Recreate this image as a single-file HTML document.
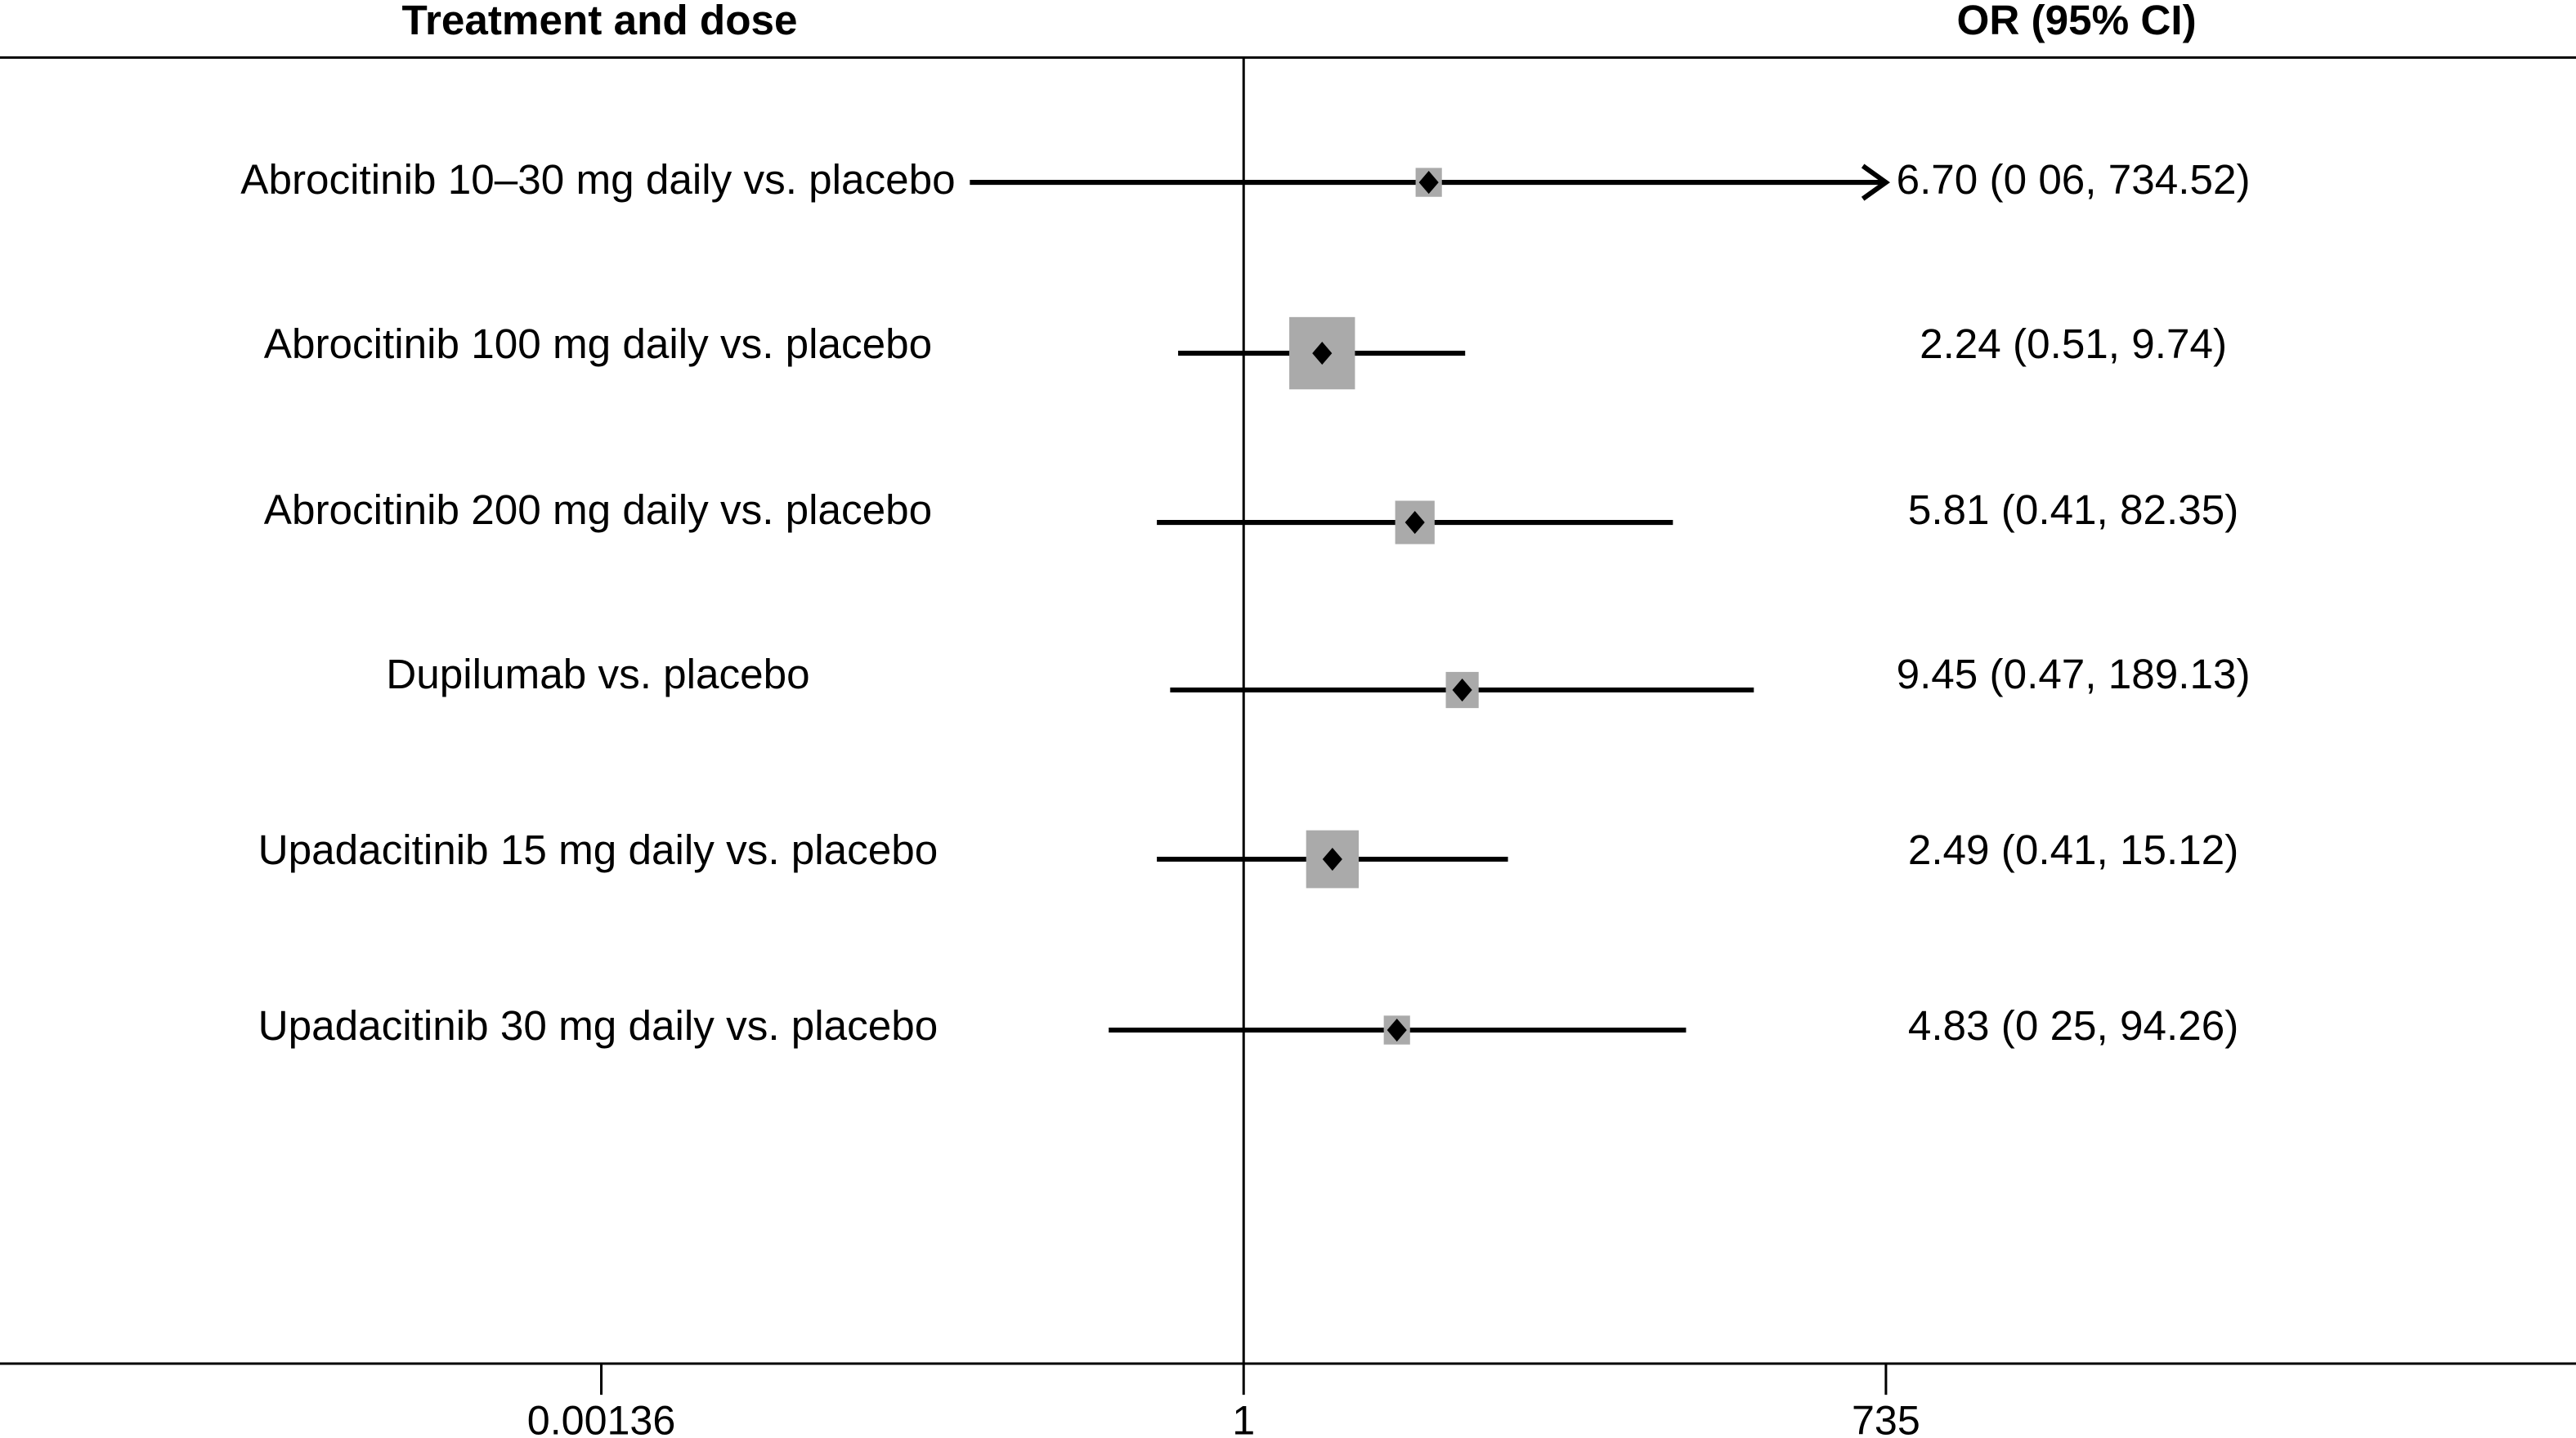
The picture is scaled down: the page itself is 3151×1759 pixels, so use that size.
<!DOCTYPE html>
<html><head><meta charset="utf-8"><style>
html,body{margin:0;padding:0;background:#fff;}
svg{display:block;font-family:"Liberation Sans",sans-serif;}
</style></head><body>
<svg id="chart" width="3151" height="1759" viewBox="0 0 1568 875.3" preserveAspectRatio="none" xmlns="http://www.w3.org/2000/svg">
<text x="365" y="21" font-size="25.5" font-weight="bold" text-anchor="middle">Treatment and dose</text>
<text x="1264" y="21" font-size="25.5" font-weight="bold" text-anchor="middle">OR (95% CI)</text>
<line x1="0" y1="35" x2="1568" y2="35" stroke="#000" stroke-width="1.5"/>
<line x1="0" y1="830" x2="1568" y2="830" stroke="#000" stroke-width="1.5"/>
<g id="marks"></g>
</svg>
<script>
const labels = ["Abrocitinib 10–30 mg daily vs. placebo","Abrocitinib 100 mg daily vs. placebo","Abrocitinib 200 mg daily vs. placebo","Dupilumab vs. placebo","Upadacitinib 15 mg daily vs. placebo","Upadacitinib 30 mg daily vs. placebo"];
const orValues = [6.70, 2.24, 5.81, 9.45, 2.49, 4.83];
const lowerCI = [0.06, 0.51, 0.41, 0.47, 0.41, 0.25];
const upperCI = [734.52, 9.74, 82.35, 189.13, 15.12, 94.26];
const ciText = ["6.70 (0 06, 734.52)","2.24 (0.51, 9.74)","5.81 (0.41, 82.35)","9.45 (0.47, 189.13)","2.49 (0.41, 15.12)","4.83 (0 25, 94.26)"];
const weights = [16, 40, 24, 20, 32, 16];
const tickValues = [0.00136, 1, 735];
const tickLabels = ["0.00136","1","735"];

const NS="http://www.w3.org/2000/svg";
const g=document.getElementById('marks');
const xScale=v=>757+Math.log10(v)*136.4;
const rowY=[111,215,318,420,523,627];
const textY=[109,209,310,410,517,624];
function mk(tag,attrs){const e=document.createElementNS(NS,tag);for(const k in attrs)e.setAttribute(k,attrs[k]);g.appendChild(e);return e;}

const ref=mk('line',{x1:xScale(1),y1:35,x2:xScale(1),y2:830,stroke:'#000','stroke-width':1.5});



tickValues.forEach((v,i)=>{
  const t=mk('line',{x1:xScale(v),y1:830,x2:xScale(v),y2:849,stroke:'#000','stroke-width':1.5});
  
  
  const tl=mk('text',{x:xScale(v),y:873,'font-size':25,'text-anchor':'middle'});
  tl.textContent=tickLabels[i];
  
  
});

labels.forEach((lab,i)=>{
  const y=rowY[i];
  const t=mk('text',{x:364,y:textY[i]+9,'font-size':25.5,'text-anchor':'middle'});
  t.textContent=lab;
  
  
  const hi=Math.min(upperCI[i],735);
  const x1=xScale(lowerCI[i]), x2=xScale(hi);
  const ci=mk('line',{x1:x1,y1:y,x2:x2,y2:y,stroke:'#000','stroke-width':3});
  
  
  if(upperCI[i]>=700){
    const a=mk('polyline',{points:`${x2-14},${y-10} ${x2},${y} ${x2-14},${y+10}`,fill:'none',stroke:'#000','stroke-width':3});
    
    
  }
  const cx=xScale(orValues[i]), h=weights[i]/2;
  const b=mk('rect',{x:cx-h,y:y-h*1.1,width:h*2,height:h*2.2,fill:'#aaa'});
  
  
  const d=mk('polygon',{points:`${cx},${y-7} ${cx+6},${y} ${cx},${y+7} ${cx-6},${y}`,fill:'#000'});
  
  
  const ct=mk('text',{x:1262,y:textY[i]+9,'font-size':25.5,'text-anchor':'middle'});
  ct.textContent=ciText[i];
  
  
});
</script>
</body></html>
